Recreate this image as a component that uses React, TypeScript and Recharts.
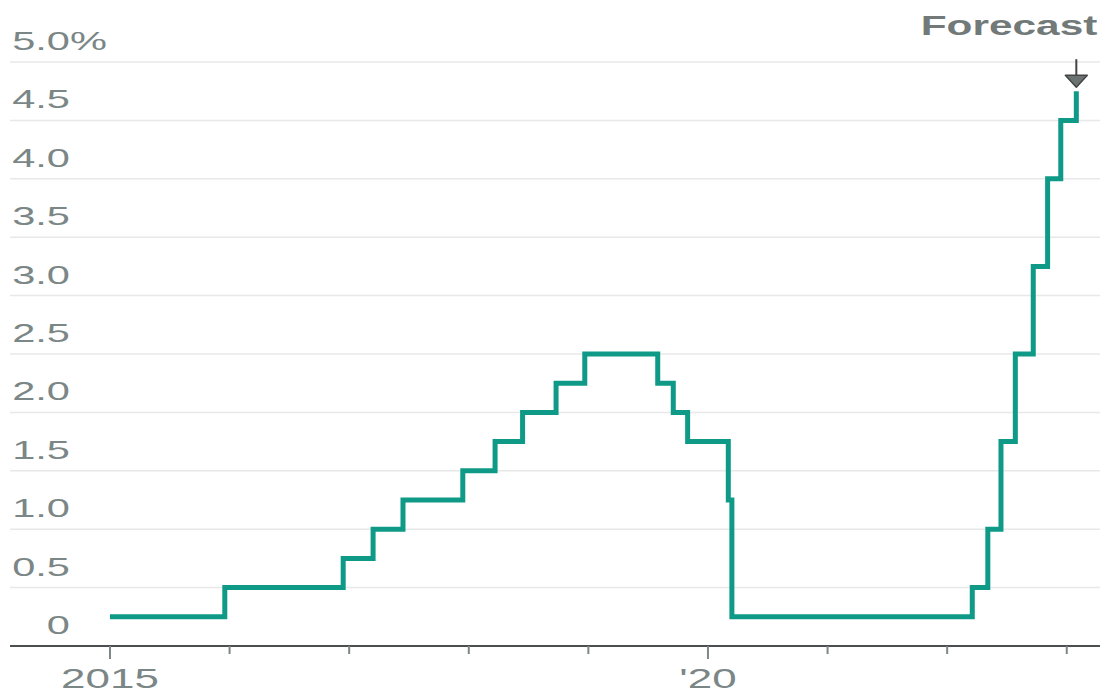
import { LineChart, Line, XAxis, YAxis, CartesianGrid, ReferenceDot } from 'recharts';

// Fed funds target rate, upper bound, by decision date (fractional year)
const decisionDates = [
  2015.0, 2015.96, 2016.95, 2017.2, 2017.45, 2017.95, 2018.22, 2018.45, 2018.73, 2018.97,
  2019.58, 2019.71, 2019.83, 2020.17, 2020.2, 2022.21, 2022.34, 2022.45, 2022.57, 2022.72,
  2022.84, 2022.95, 2023.08,
];
const upperBound = [
  0.25, 0.5, 0.75, 1.0, 1.25, 1.5, 1.75, 2.0, 2.25, 2.5,
  2.25, 2.0, 1.75, 1.25, 0.25, 0.5, 1.0, 1.75, 2.5, 3.25,
  4.0, 4.5, 4.75,
];
const yearTicks = [2015, 2016, 2017, 2018, 2019, 2020, 2021, 2022, 2023];
const yearLabels: Record<number, string> = { 2015: '2015', 2020: "'20" };
const rateTicks = [0, 0.5, 1, 1.5, 2, 2.5, 3, 3.5, 4, 4.5, 5];

const data = decisionDates.map((d, i) => ({ date: d, rate: upperBound[i] }));
const last = data[data.length - 1];

const FONT = '"Liberation Sans", Arial, sans-serif';
const LABEL_COLOR = '#7b8686';
const STRETCH = 1.57;

function RateTick({ y, payload }: any) {
  const v = payload.value as number;
  const label = v === 0 ? '0' : v.toFixed(1);
  return (
    <g transform={`translate(70,${y - 12}) scale(${STRETCH},1)`}>
      <text x={0} y={0} textAnchor="end" fontFamily={FONT} fontSize={26.5} fill={LABEL_COLOR}>
        {label}
      </text>
      {v === 5 && (
        <text x={0} y={0} textAnchor="start" fontFamily={FONT} fontSize={26.5} fill={LABEL_COLOR}>
          %
        </text>
      )}
    </g>
  );
}

function YearTick({ x, y, payload }: any) {
  const label = yearLabels[payload.value as number];
  return (
    <g>
      <line x1={x} x2={x} y1={y - 8} y2={y + (label ? 5 : 0)} stroke="#7d8787" strokeWidth={2} />
      {label && (
        <g transform={`translate(${x},${y + 34}) scale(${STRETCH},1)`}>
          <text x={0} y={0} textAnchor="middle" fontFamily={FONT} fontSize={28} fill={LABEL_COLOR}>
            {label}
          </text>
        </g>
      )}
    </g>
  );
}

function ForecastMarker({ cx, cy }: any) {
  return (
    <g>
      <line x1={cx} x2={cx} y1={cy - 32} y2={cy - 15} stroke="#444" strokeWidth={2} />
      <path
        d={`M${cx - 11},${cy - 16} L${cx + 11},${cy - 16} L${cx},${cy - 4} Z`}
        fill="#6b7272"
        stroke="#444"
        strokeWidth={1.5}
        strokeLinejoin="round"
      />
      <g transform={`translate(${cx + 21},${cy - 56}) scale(${STRETCH},1)`}>
        <text x={0} y={0} textAnchor="end" fontFamily={FONT} fontWeight="bold" fontSize={27} fill="#717979">
          Forecast
        </text>
      </g>
    </g>
  );
}

export default function App() {
  return (
    <div style={{ position: 'absolute', left: 0, top: 0, background: '#fff' }}>
      <LineChart width={1105} height={691} data={data} margin={{ top: 62, right: 5, bottom: 0, left: 9 }}>
        <CartesianGrid vertical={false} stroke="#e8e8e8" strokeWidth={1.5} />
        <XAxis
          dataKey="date"
          type="number"
          domain={[2014.164, 2023.278]}
          ticks={yearTicks}
          tick={<YearTick />}
          tickLine={false}
          axisLine={{ stroke: '#4a4f4f', strokeWidth: 2 }}
          height={45}
          interval={0}
          allowDataOverflow
        />
        <YAxis
          type="number"
          domain={[0, 5]}
          ticks={rateTicks}
          width={1}
          axisLine={false}
          tickLine={false}
          tick={<RateTick />}
          interval={0}
        />
        <Line
          type="stepAfter"
          dataKey="rate"
          stroke="#0e9a87"
          strokeWidth={5}
          dot={false}
          isAnimationActive={false}
        />
        <ReferenceDot x={last.date} y={last.rate} shape={<ForecastMarker />} ifOverflow="visible" />
      </LineChart>
    </div>
  );
}
